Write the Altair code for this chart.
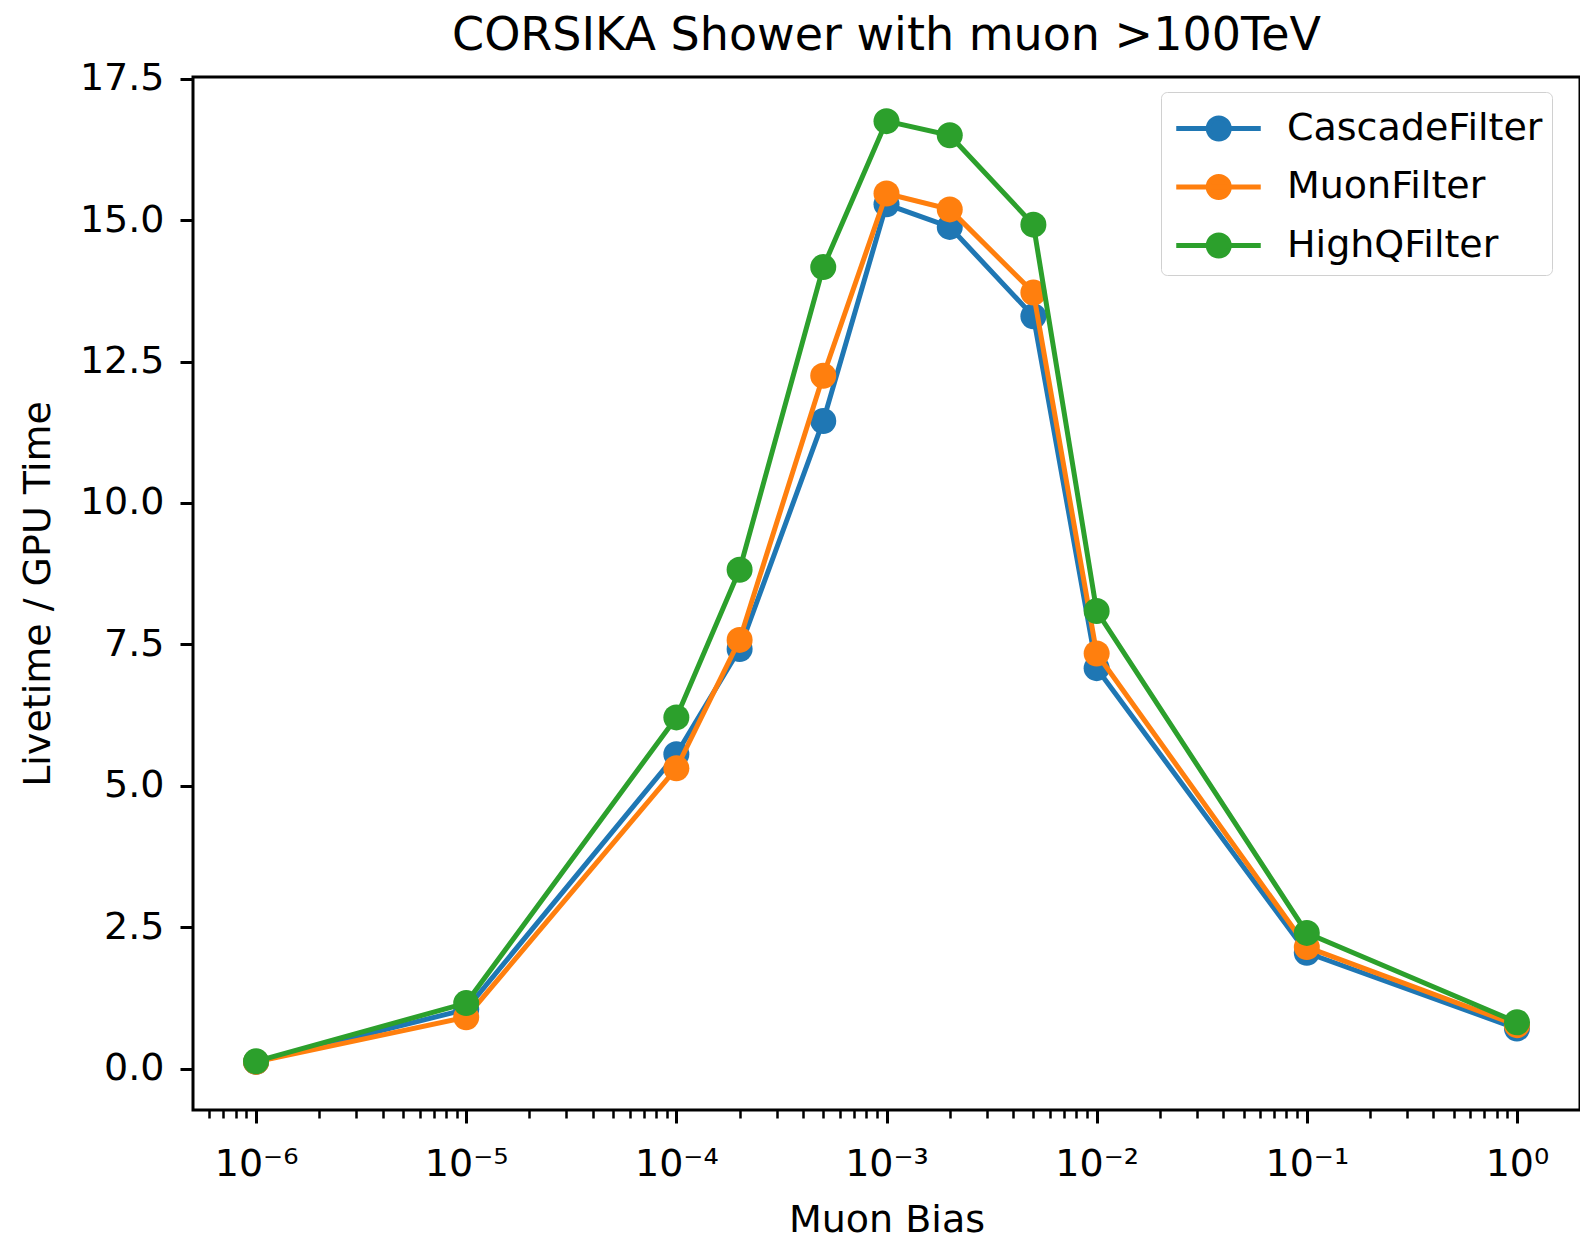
import altair as alt
import pandas as pd

# Livetime / GPU time for each filter at each muon bias setting
muon_bias = [1e-6, 1e-5, 1e-4, 2e-4, 5e-4, 1e-3, 2e-3, 5e-3, 1e-2, 1e-1, 1.0]
cascade_filter = [0.12, 1.05, 5.56, 7.42, 11.45, 15.28, 14.88, 13.30, 7.08, 2.05, 0.71]
muon_filter = [0.12, 0.91, 5.31, 7.58, 12.25, 15.47, 15.19, 13.72, 7.34, 2.15, 0.77]
highq_filter = [0.13, 1.16, 6.21, 8.82, 14.17, 16.75, 16.50, 14.92, 8.09, 2.40, 0.82]

series_names = ["CascadeFilter", "MuonFilter", "HighQFilter"]
series_colors = ["#1f77b4", "#ff7f0e", "#2ca02c"]

y_ticks = [0.0, 2.5, 5.0, 7.5, 10.0, 12.5, 15.0, 17.5]
x_major = [1e-6, 1e-5, 1e-4, 1e-3, 1e-2, 1e-1, 1.0]
x_labels = ["10⁻⁶", "10⁻⁵", "10⁻⁴", "10⁻³", "10⁻²", "10⁻¹", "10⁰"]
minor_mult = [2, 3, 4, 5, 6, 7, 8, 9]
minor_decades = [1e-7, 1e-6, 1e-5, 1e-4, 1e-3, 1e-2, 1e-1, 1.0]

x_domain = [10 ** -6.3, 10 ** 0.3]
y_domain = [-0.73, 17.53]

FONT = "DejaVu Sans"

rows = []
for name, vals in zip(series_names, [cascade_filter, muon_filter, highq_filter]):
    for b, v in zip(muon_bias, vals):
        rows.append({"bias": b, "livetime": v, "filter": name})
df = pd.DataFrame(rows)

minor_ticks = [m * d for d in minor_decades for m in minor_mult
               if x_domain[0] <= m * d <= x_domain[1]]

# tick label text for the decades, e.g. 10⁻³
label_expr = "''"
for val, lab in reversed(list(zip(x_major, x_labels))):
    label_expr = f"abs(datum.value / {val} - 1) < 0.001 ? '{lab}' : ({label_expr})"

x_scale = alt.Scale(type="log", domain=x_domain, nice=False)
y_scale = alt.Scale(domain=y_domain, nice=False, zero=False)

x_main = alt.X(
    "bias:Q", scale=x_scale, title="Muon Bias",
    axis=alt.Axis(values=x_major, labelExpr=label_expr, orient="bottom",
                  tickSize=13, tickWidth=3, tickColor="black", domain=False,
                  grid=False, labelFont=FONT, labelFontSize=38, labelColor="black",
                  labelPadding=22, labelFlush=False, labelOverlap=False,
                  titleFont=FONT, titleFontSize=38, titleFontWeight="normal",
                  titleColor="black", titlePadding=18),
)
y_main = alt.Y(
    "livetime:Q", scale=y_scale, title="Livetime / GPU Time",
    axis=alt.Axis(values=y_ticks, format=".1f", tickSize=13, tickWidth=3,
                  tickColor="black", domain=False, grid=False, labelFont=FONT,
                  labelFontSize=38, labelColor="black", labelPadding=16,
                  labelFlush=False, labelOverlap=False,
                  titleFont=FONT, titleFontSize=38, titleFontWeight="normal",
                  titleColor="black", titlePadding=22),
)

legend = alt.Legend(
    title=None, orient="none", legendX=968, legendY=15,
    symbolType="M-0.85,0H2.53M1.27,0A0.42,0.42,0,1,1,0.43,0A0.42,0.42,0,1,1,1.27,0",
    symbolSize=2500, symbolStrokeWidth=5, symbolOpacity=1, labelFont=FONT,
    labelFontSize=38, labelColor="black", labelOffset=62, rowPadding=10.5, padding=9,
    fillColor="rgba(255,255,255,0.8)", strokeColor="#d0d0d0", cornerRadius=6,
    labelLimit=600,
)
color = alt.Color("filter:N", scale=alt.Scale(domain=series_names, range=series_colors),
                  legend=legend)

layers = []
for name in series_names:
    base = alt.Chart(df).transform_filter(alt.datum.filter == name)
    layers.append(base.mark_line(strokeWidth=5).encode(x=x_main, y=y_main, color=color))
    layers.append(base.mark_circle(size=676, opacity=1).encode(x=x_main, y=y_main, color=color))

series = alt.layer(*layers)

# invisible layer carrying the minor tick marks of the log axis
minor = alt.Chart(df).mark_line(opacity=0).encode(
    x=alt.X("bias:Q", scale=x_scale, title=None,
            axis=alt.Axis(values=minor_ticks, labels=False, orient="bottom",
                          tickSize=8, tickWidth=2.5, tickColor="black",
                          domain=False, grid=False, title=None)),
    y=y_main,
)

chart = alt.layer(series, minor).resolve_axis(x="independent").properties(
    width=1387, height=1033,
    title=alt.TitleParams("CORSIKA Shower with muon >100TeV", font=FONT, fontSize=46,
                          fontWeight="normal", color="black", anchor="middle",
                          offset=0),
    autosize=alt.AutoSizeParams(type="none"),
    padding={"left": 193, "top": 77, "right": 0, "bottom": 128},
    background="white",
).configure_view(stroke="black", strokeWidth=3)

chart.save("out.html", embed_options={"renderer": "svg", "actions": False})
